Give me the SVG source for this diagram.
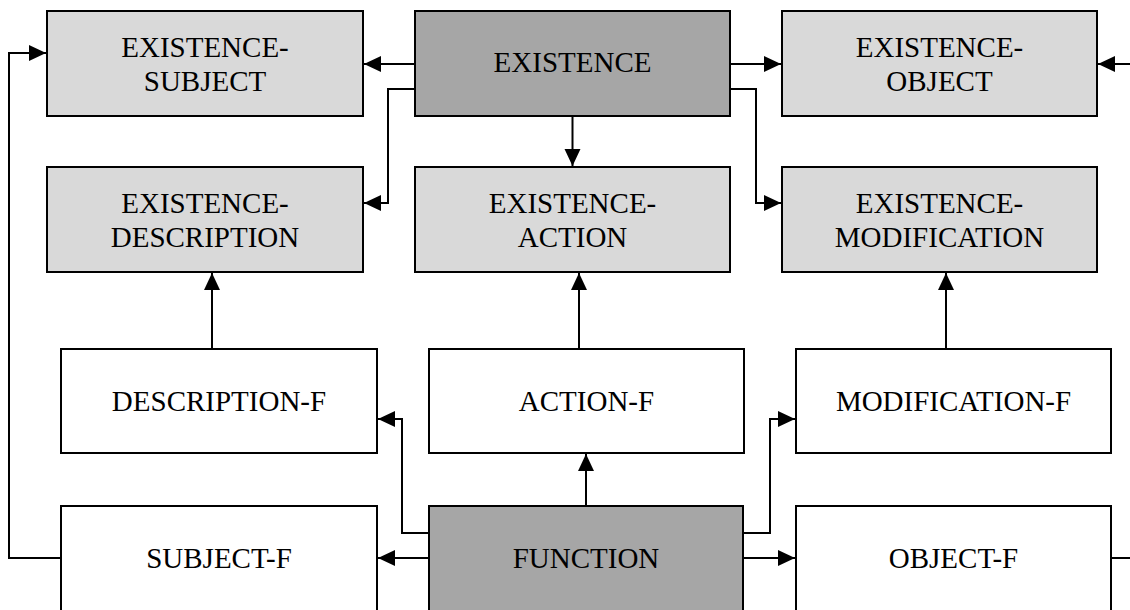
<svg xmlns="http://www.w3.org/2000/svg" width="1130" height="610" viewBox="0 0 1130 610">
<style>
.box{stroke:#000;stroke-width:2}
.light{fill:#d9d9d9}
.dark{fill:#a6a6a6}
.white{fill:#fff}
.t{font-family:"Liberation Serif","Times New Roman",serif;font-size:29px;fill:#000;text-anchor:middle}
.c{fill:none;stroke:#000;stroke-width:2}
</style>
<defs>
<marker id="ah" markerUnits="userSpaceOnUse" markerWidth="18" markerHeight="17" refX="17" refY="8" orient="auto">
<path d="M0,0 L17,8 L0,16 z" fill="#000"/>
</marker>
</defs>
<rect width="1130" height="610" fill="#fff"/>
<g id="connectors">
<path class="c" d="M415,64 H364" marker-end="url(#ah)"/>
<path class="c" d="M730,64 H781" marker-end="url(#ah)"/>
<path class="c" d="M1130,64 H1098" marker-end="url(#ah)"/>
<path class="c" d="M415,89 H388 V203 H364" marker-end="url(#ah)"/>
<path class="c" d="M730,89 H756 V203 H781" marker-end="url(#ah)"/>
<path class="c" d="M572.5,116 V166" marker-end="url(#ah)"/>
<path class="c" d="M212,349 V273" marker-end="url(#ah)"/>
<path class="c" d="M579,349 V273" marker-end="url(#ah)"/>
<path class="c" d="M946,349 V273" marker-end="url(#ah)"/>
<path class="c" d="M429,558 H378" marker-end="url(#ah)"/>
<path class="c" d="M429,533 H402 V419 H378" marker-end="url(#ah)"/>
<path class="c" d="M586,506 V454" marker-end="url(#ah)"/>
<path class="c" d="M743,533 H770 V419 H795" marker-end="url(#ah)"/>
<path class="c" d="M743,558 H795" marker-end="url(#ah)"/>
<path class="c" d="M1111,558 H1130"/>
<path class="c" d="M61,558 H9 V53 H46" marker-end="url(#ah)"/>
</g>
<g id="existence-subject">
<rect class="box light" x="47" y="11" width="316" height="105"/>
<text class="t" x="205" y="57">EXISTENCE-</text>
<text class="t" x="205" y="91">SUBJECT</text>
</g>
<g id="existence">
<rect class="box dark" x="415" y="11" width="315" height="105"/>
<text class="t" x="572.5" y="72">EXISTENCE</text>
</g>
<g id="existence-object">
<rect class="box light" x="782" y="11" width="315" height="105"/>
<text class="t" x="939.5" y="57">EXISTENCE-</text>
<text class="t" x="939.5" y="91">OBJECT</text>
</g>
<g id="existence-description">
<rect class="box light" x="47" y="167" width="316" height="105"/>
<text class="t" x="205" y="213">EXISTENCE-</text>
<text class="t" x="205" y="247">DESCRIPTION</text>
</g>
<g id="existence-action">
<rect class="box light" x="415" y="167" width="315" height="105"/>
<text class="t" x="572.5" y="213">EXISTENCE-</text>
<text class="t" x="572.5" y="247">ACTION</text>
</g>
<g id="existence-modification">
<rect class="box light" x="782" y="167" width="315" height="105"/>
<text class="t" x="939.5" y="213">EXISTENCE-</text>
<text class="t" x="939.5" y="247">MODIFICATION</text>
</g>
<g id="description-f">
<rect class="box white" x="61" y="349" width="316" height="104"/>
<text class="t" x="219" y="411">DESCRIPTION-F</text>
</g>
<g id="action-f">
<rect class="box white" x="429" y="349" width="315" height="104"/>
<text class="t" x="586.5" y="411">ACTION-F</text>
</g>
<g id="modification-f">
<rect class="box white" x="796" y="349" width="315" height="104"/>
<text class="t" x="953.5" y="411">MODIFICATION-F</text>
</g>
<g id="subject-f">
<rect class="box white" x="61" y="506" width="316" height="110"/>
<text class="t" x="219" y="568">SUBJECT-F</text>
</g>
<g id="function">
<rect class="box dark" x="429" y="506" width="314" height="110"/>
<text class="t" x="586" y="568">FUNCTION</text>
</g>
<g id="object-f">
<rect class="box white" x="796" y="506" width="315" height="110"/>
<text class="t" x="953.5" y="568">OBJECT-F</text>
</g>
</svg>
